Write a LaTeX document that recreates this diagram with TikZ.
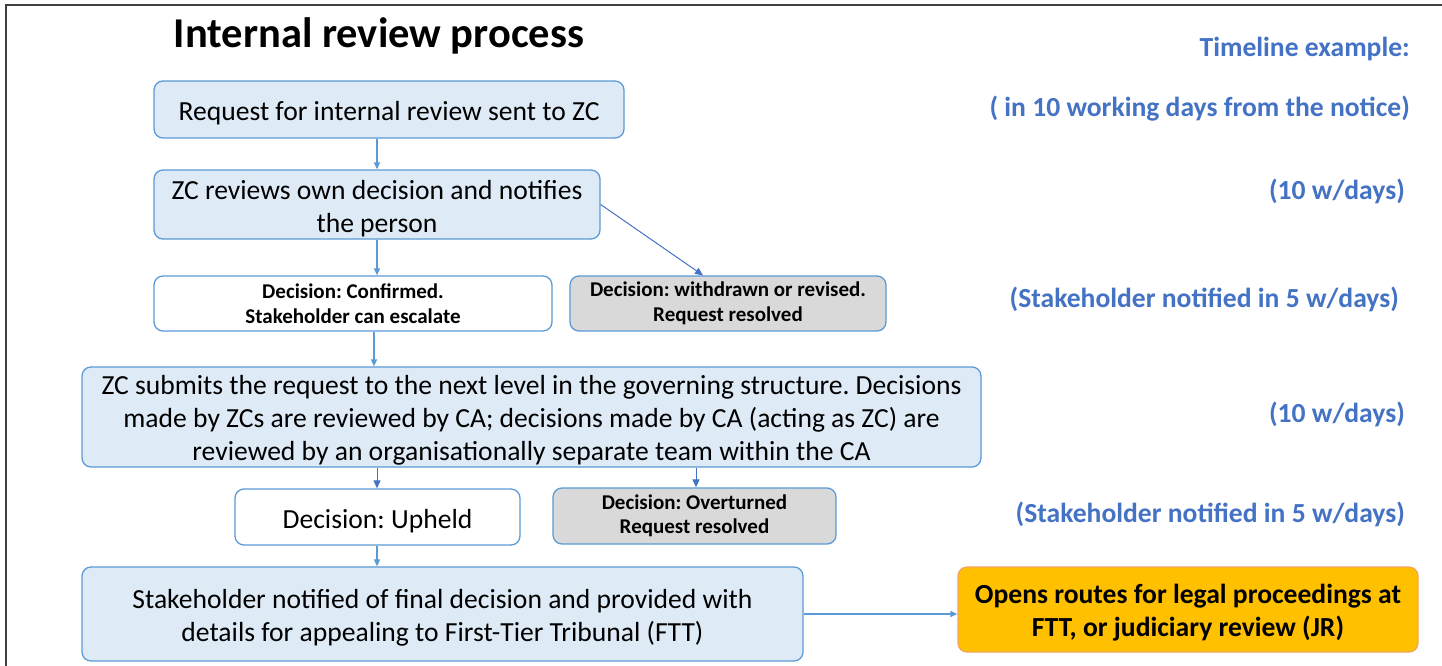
\documentclass[tikz,border=0pt]{standalone}
\usepackage{fontspec}
\setmainfont{Carlito}
\usetikzlibrary{arrows.meta}
\frenchspacing
\definecolor{boxblue}{HTML}{DEEBF7}
\definecolor{edgeblue}{HTML}{5B9BD5}
\definecolor{arrowblue}{HTML}{4472C4}
\definecolor{greyfill}{HTML}{D9D9D9}
\definecolor{gold}{HTML}{FFC000}
\definecolor{goldedge}{HTML}{F2A65A}
\definecolor{timeblue}{HTML}{4472C4}
\definecolor{framegrey}{HTML}{404040}
% taller first line, so the large box text sits a little lower
\newcommand\boxstrut{\rule{0pt}{26.5pt}}
\begin{document}
\begin{tikzpicture}[x=1pt,y=-1pt,
  box/.style={draw=edgeblue, line width=1.3pt, rounded corners=9pt, align=center,
    inner sep=0pt, font=\fontsize{27.6}{33}\selectfont,
    execute at begin node=\boxstrut},
  bluebox/.style={box, fill=boxblue},
  whitebox/.style={box, fill=white},
  greybox/.style={box, fill=greyfill},
  smallbold/.style={font=\bfseries\fontsize{21}{24.5}\selectfont,
    execute at begin node={}},
  arr/.style={draw=edgeblue, line width=1.3pt, -{Triangle[length=7pt,width=6pt]}},
  darr/.style={draw=arrowblue, line width=1pt, -{Triangle[length=8pt,width=7pt]}},
  timenote/.style={anchor=base east, text=timeblue, inner sep=0pt,
    font=\bfseries\fontsize{27.6}{33}\selectfont}
]
\useasboundingbox (0,0) rectangle (1442,666);
\fill[white] (0,0) rectangle (1442,666);
% outer frame (top and left edges)
\draw[framegrey, line width=1.5pt] (6,672) -- (6,5) -- (1450,5);

% title
\node[anchor=base, inner sep=0pt, font=\bfseries\fontsize{42.5}{50}\selectfont] (title) at (379,48) {Internal review process};

% process boxes
\node[bluebox, minimum width=470, minimum height=57] (req) at (389,109.5)
  {Request for internal review sent to ZC};
\node[bluebox, minimum width=446, minimum height=69] (own) at (377,204.5)
  {\boxstrut ZC reviews own decision and notifies\\the person};
\node[whitebox, smallbold, minimum width=398, minimum height=55] (conf) at (353,303.5)
  {Decision: Confirmed.\\Stakeholder can escalate};
\node[greybox, smallbold, minimum width=316, minimum height=55] (withd) at (728,303.5)
  {Decision: withdrawn or revised.\\Request resolved};
\node[bluebox, minimum width=899, minimum height=100] (next) at (531.5,417)
  {\boxstrut ZC submits the request to the next level in the governing structure. Decisions\\
   made by ZCs are reviewed by CA; decisions made by CA (acting as ZC) are\\
   reviewed by an organisationally separate team within the CA};
\node[whitebox, minimum width=285, minimum height=56] (upheld) at (377.5,517)
  {Decision: Upheld};
\node[greybox, smallbold, minimum width=283, minimum height=56] (over) at (694.5,516)
  {Decision: Overturned\\Request resolved};
\node[bluebox, minimum width=721, minimum height=94] (final) at (442.5,614)
  {\boxstrut Stakeholder notified of final decision and provided with\\
   details for appealing to First-Tier Tribunal (FTT)};
\node[box, draw=goldedge, fill=gold, font=\bfseries\fontsize{27.6}{33}\selectfont,
  minimum width=460, minimum height=85] (legal) at (1188,609.5)
  {\boxstrut Opens routes for legal proceedings at\\FTT, or judiciary review (JR)};

% connectors
\draw[arr] (377,0 |- req.south) -- (377,0 |- own.north);
\draw[arr] (377,0 |- own.south) -- (377,0 |- conf.north);
\draw[darr] (own.east) -- (703,0 |- withd.north);
\draw[arr] (374,0 |- conf.south) -- (374,0 |- next.north);
\draw[darr] (377,0 |- next.south) -- (377,0 |- upheld.north);
\draw[darr] (696,0 |- next.south) -- (696,0 |- over.north);
\draw[arr] (377,0 |- upheld.south) -- (377,0 |- final.north);
\draw[arr] (final.east) -- (final.east -| legal.west);

% timeline column
\node[timenote] (t0) at (1410,57) {Timeline example:};
\node[timenote] (t1) at (1410,117) {( in 10 working days from the notice)};
\node[timenote] (t2) at (1405,199) {(10 w/days)};
\node[timenote] (t3) at (1399,307) {(Stakeholder notified in 5 w/days)};
\node[timenote] (t4) at (1405,422) {(10 w/days)};
\node[timenote] (t5) at (1405,522) {(Stakeholder notified in 5 w/days)};
\end{tikzpicture}
\end{document}
